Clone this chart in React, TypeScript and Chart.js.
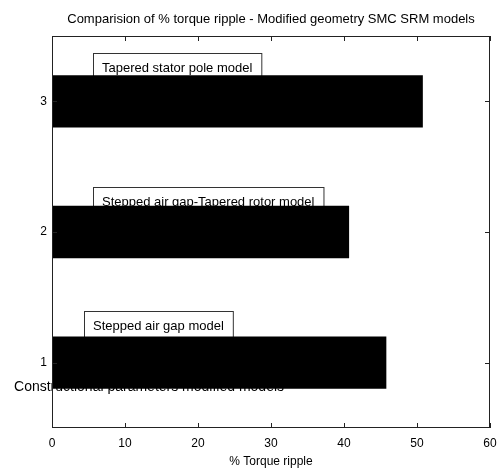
import React, { useEffect, useRef } from "react";
import { Chart, registerables } from "chart.js";

Chart.register(...registerables);

// ---- data ----
const modelIndex = [1, 2, 3];
const torqueRipple = [45.8, 40.7, 50.8];
const xTicks = [0, 10, 20, 30, 40, 50, 60];
const chartTitle = "Comparision of % torque ripple - Modified geometry SMC SRM models";
const xAxisTitle = "% Torque ripple";

// boxed text labels: [text, x (data), y (data)]
const boxLabels: [string, number, number][] = [
  ["Stepped air gap model", 4.4, 1.28],
  ["Stepped air gap-Tapered rotor model", 5.6, 2.23],
  ["Tapered stator pole model", 5.6, 3.255],
];
const plainLabels: [string, number, number][] = [
  ["Constructional parameters modified models", -5.2, 0.81],
];

const FONT = '"Liberation Sans", Arial, Helvetica, sans-serif';

const decorPlugin = {
  id: "decor",
  beforeDatasetsDraw(chart: any) {
    const { ctx, scales } = chart;
    const xs = scales.x;
    const ys = scales.y;
    ctx.save();
    ctx.textBaseline = "middle";
    ctx.textAlign = "left";
    ctx.fillStyle = "#000";
    ctx.font = `13px ${FONT}`;
    for (const [t, xv, yv] of boxLabels) {
      const left = Math.round(xs.getPixelForValue(xv));
      const cy = ys.getPixelForValue(yv);
      const w = ctx.measureText(t).width;
      const padX = 9;
      ctx.strokeStyle = "#333";
      ctx.lineWidth = 1;
      ctx.strokeRect(left + 0.5, Math.round(cy - 15) + 0.5, w + padX * 2, 30);
      ctx.fillText(t, left + padX, cy);
    }
    ctx.font = `14px ${FONT}`;
    for (const [t, xv, yv] of plainLabels) {
      ctx.fillText(t, xs.getPixelForValue(xv), ys.getPixelForValue(yv));
    }
    ctx.restore();
  },
  afterDatasetsDraw(chart: any) {
    const { ctx, chartArea, scales } = chart;
    const { left, right, top, bottom } = chartArea;
    ctx.save();
    ctx.strokeStyle = "#222";
    ctx.lineWidth = 1;
    ctx.strokeRect(left + 0.5, top + 0.5, right - left - 1, bottom - top - 1);
    const tl = 5;
    ctx.beginPath();
    for (const v of xTicks) {
      const px = Math.round(scales.x.getPixelForValue(v)) + 0.5;
      ctx.moveTo(px, bottom);
      ctx.lineTo(px, bottom - tl);
      ctx.moveTo(px, top);
      ctx.lineTo(px, top + tl);
    }
    for (const v of modelIndex) {
      const py = Math.round(scales.y.getPixelForValue(v)) + 0.5;
      ctx.moveTo(left, py);
      ctx.lineTo(left + tl, py);
      ctx.moveTo(right, py);
      ctx.lineTo(right - tl, py);
    }
    ctx.stroke();
    ctx.restore();
  },
};

export default function App() {
  const ref = useRef<HTMLCanvasElement | null>(null);
  useEffect(() => {
    if (!ref.current) return;
    Chart.defaults.font.family = FONT;
    Chart.defaults.color = "#000";
    const chart = new Chart(ref.current, {
      type: "bar",
      data: {
        datasets: [
          {
            data: modelIndex.map((m, i) => ({ x: torqueRipple[i], y: m })) as any,
            backgroundColor: "#000",
            borderColor: "#000",
            borderWidth: 0,
            barPercentage: 0.4,
            categoryPercentage: 1,
          },
        ],
      },
      options: {
        indexAxis: "y",
        animation: false,
        responsive: true,
        maintainAspectRatio: false,
        layout: { padding: { left: 0, right: 12, top: 0, bottom: 0 } },
        plugins: {
          legend: { display: false },
          tooltip: { enabled: false },
          title: {
            display: true,
            text: chartTitle,
            fullSize: false,
            color: "#000",
            font: { size: 13, weight: "normal", family: FONT },
            padding: { top: 12, bottom: 8.4 },
          },
        },
        scales: {
          x: {
            type: "linear",
            min: 0,
            max: 60,
            afterBuildTicks: (s: any) => {
              s.ticks = xTicks.map((v) => ({ value: v }));
            },
            afterFit: (s: any) => {
              s.height = 40;
              s.paddingLeft = 0;
              s.paddingRight = 0;
            },
            grid: { display: false, tickLength: 0 },
            border: { display: false },
            ticks: { font: { size: 12 }, padding: 8, color: "#000", maxRotation: 0 },
            title: {
              display: true,
              text: xAxisTitle,
              font: { size: 12, lineHeight: 1 },
              padding: { top: 0, bottom: 0 },
              color: "#000",
            },
          },
          y: {
            type: "linear",
            min: 0.5,
            max: 3.5,
            offset: false,
            afterBuildTicks: (s: any) => {
              s.ticks = modelIndex.map((v) => ({ value: v }));
            },
            afterFit: (s: any) => {
              s.width = 52;
              s.paddingTop = 0;
              s.paddingBottom = 0;
            },
            grid: { display: false, offset: false, tickLength: 0 },
            border: { display: false },
            ticks: { font: { size: 12 }, padding: 5, color: "#000" },
          },
        },
      },
      plugins: [decorPlugin],
    });
    return () => chart.destroy();
  }, []);
  return (
    <div style={{ position: "absolute", left: 0, top: 0, width: 502, height: 468, background: "#fff" }}>
      <canvas ref={ref} />
    </div>
  );
}
